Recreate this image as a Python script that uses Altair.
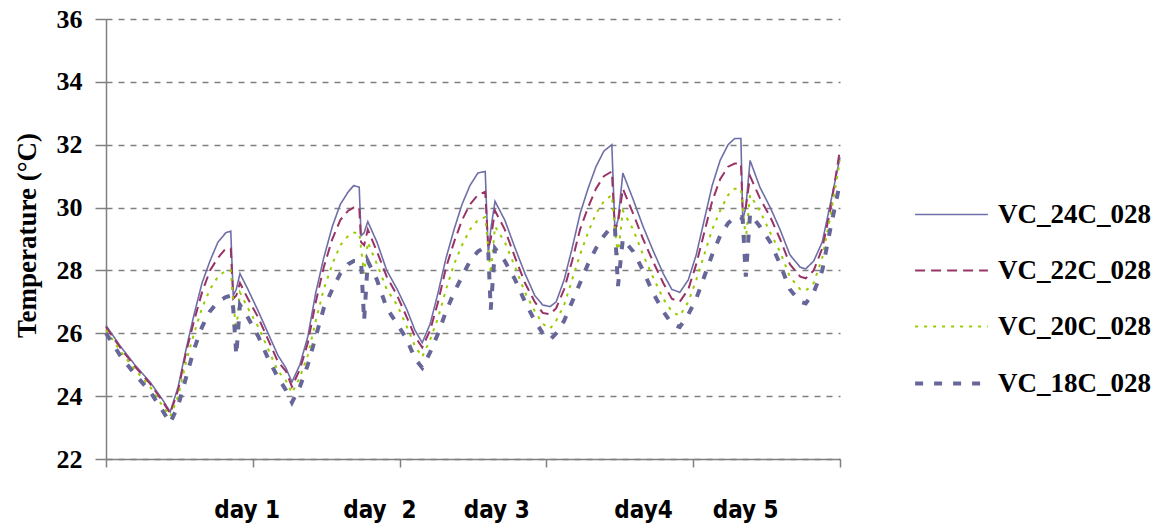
import altair as alt
import pandas as pd

# ---- data ----
x_hours = [0, 2.3, 4.7, 7.2, 9.2, 10.5, 11.8, 13.1, 14.4, 15.7, 17.0, 18.3, 19.6, 20.4, 20.8, 21.3, 21.9,
           23.2, 24.9, 26.5, 28.1, 29.4, 30.4, 31.7, 33.0, 34.3, 35.6, 37.0, 38.3, 39.6, 40.5, 41.4,
           41.7, 42.2, 42.8, 44.3, 45.9, 47.6, 49.2, 50.5, 51.7, 53.0, 54.3, 55.6, 56.9, 58.2, 59.5,
           60.8, 62.0, 62.5, 62.9, 63.6, 65.2, 66.9, 68.5, 70.1, 71.4, 72.6, 73.6, 74.9, 76.2, 77.5,
           78.8, 80.1, 81.4, 82.7, 83.2, 83.7, 84.5, 86.2, 87.8, 89.4, 91.1, 92.5, 93.8, 95.2, 96.5,
           97.8, 99.1, 100.4, 101.7, 102.8, 103.8, 104.1, 104.6, 105.3, 106.9, 108.6, 110.2, 111.8,
           113.5, 114.4, 115.7, 117.1, 118.4, 120.0]

t24 = [26.25, 25.6, 25.0, 24.45, 23.9, 23.5, 24.3, 25.5, 26.6, 27.6, 28.3, 28.9, 29.2, 29.25, 27.2, 27.4, 27.9,
       27.4, 26.7, 26.0, 25.3, 24.9, 24.45, 25.0, 25.9, 27.3, 28.4, 29.4, 30.1, 30.5, 30.7, 30.65,
       29.1, 29.2, 29.55, 28.9, 28.0, 27.4, 26.75, 26.1, 25.7, 26.3, 27.3, 28.4, 29.3, 30.1, 30.7,
       31.1, 31.15, 28.5, 29.3, 30.2, 29.6, 28.7, 27.9, 27.2, 26.9, 26.85, 27.0, 27.7, 28.7, 29.8,
       30.6, 31.3, 31.8, 32.0, 29.3, 29.6, 31.1, 30.25, 29.4, 28.65, 27.9, 27.4, 27.3, 27.7, 28.5,
       29.6, 30.7, 31.5, 32.0, 32.2, 32.2, 29.6, 30.0, 31.5, 30.65, 30.0, 29.3, 28.5,
       28.1, 28.05, 28.3, 28.9, 30.1, 31.6]

t22 = [26.2, 25.55, 24.95, 24.4, 23.85, 23.45, 24.2, 25.4, 26.4, 27.3, 28.0, 28.4, 28.7, 28.7, 27.1, 27.2, 27.6,
       27.1, 26.5, 25.8, 25.1, 24.8, 24.3, 24.85, 25.7, 27.0, 28.1, 29.0, 29.6, 29.9, 30.0, 30.0,
       28.9, 28.8, 29.3, 28.6, 27.8, 27.2, 26.5, 25.9, 25.55, 26.1, 27.0, 28.1, 28.9, 29.6, 30.1,
       30.4, 30.5, 28.7, 29.0, 29.9, 29.3, 28.4, 27.6, 27.0, 26.65, 26.6, 26.8, 27.4, 28.3, 29.3,
       30.0, 30.6, 31.0, 31.15, 29.3, 29.5, 30.6, 29.8, 29.0, 28.3, 27.6, 27.1, 27.0, 27.4, 28.2,
       29.2, 30.2, 30.9, 31.3, 31.4, 31.4, 29.9, 30.0, 31.0, 30.3, 29.7, 29.0, 28.2,
       27.8, 27.75, 28.0, 28.7, 29.9, 31.85]

t20 = [26.1, 25.45, 24.85, 24.3, 23.7, 23.35, 24.0, 25.1, 26.0, 26.8, 27.4, 27.8, 28.0, 28.0, 27.0, 26.1, 27.3,
       26.8, 26.2, 25.5, 24.8, 24.5, 24.1, 24.6, 25.3, 26.4, 27.4, 28.2, 28.8, 29.1, 29.2, 29.2,
       28.7, 27.9, 28.9, 28.2, 27.4, 26.9, 26.2, 25.6, 25.25, 25.8, 26.5, 27.4, 28.2, 28.8, 29.3,
       29.6, 29.7, 28.7, 27.9, 29.4, 28.9, 28.1, 27.3, 26.7, 26.3, 26.15, 26.4, 26.9, 27.7, 28.5,
       29.2, 29.8, 30.2, 30.4, 29.3, 28.5, 29.9, 29.3, 28.5, 27.8, 27.1, 26.7, 26.55, 27.0, 27.7,
       28.5, 29.3, 29.9, 30.4, 30.6, 30.6, 30.0, 29.0, 30.4, 29.9, 29.2, 28.6, 27.8,
       27.4, 27.35, 27.6, 28.4, 29.7, 31.5]

t18 = [26.0, 25.3, 24.7, 24.15, 23.55, 23.15, 23.7, 24.6, 25.5, 26.2, 26.7, 27.0, 27.15, 27.2, 26.8, 25.3, 26.9,
       26.5, 25.9, 25.2, 24.6, 24.2, 23.8, 24.3, 25.0, 25.9, 26.8, 27.4, 27.9, 28.2, 28.3, 28.3,
       28.3, 26.4, 28.3, 27.7, 26.8, 26.3, 25.8, 25.2, 24.9, 25.4, 26.0, 26.7, 27.3, 27.8, 28.3,
       28.6, 28.75, 28.6, 26.75, 28.7, 28.3, 27.7, 27.0, 26.4, 26.0, 25.8, 26.0, 26.4, 27.0, 27.6,
       28.2, 28.7, 29.1, 29.4, 29.4, 27.5, 29.0, 28.6, 28.0, 27.3, 26.7, 26.3, 26.2, 26.6, 27.1,
       27.8, 28.5, 29.1, 29.5, 29.7, 29.7, 29.6, 27.8, 29.8, 29.4, 28.9, 28.2, 27.4,
       27.0, 26.95, 27.3, 28.0, 29.3, 30.8]

series_names = ["VC_24C_028", "VC_22C_028", "VC_20C_028", "VC_18C_028"]
series_values = [t24, t22, t20, t18]
series_colors = ["#6E6EA8", "#993366", "#99CC00", "#666699"]
series_dash = [[1, 0], [10, 6], [3, 6], [8, 11]]
series_width = [1.6, 2, 2, 4]

y_ticks = [22, 24, 26, 28, 30, 32, 34, 36]
x_ticks = [0, 24, 48, 72, 96, 120]
day_labels = ["day 1", "day\u00a0 2", "day 3", "day4", "day 5"]
day_pos = [23.0, 44.7, 63.8, 87.8, 104.5]

rows = []
for name, vals in zip(series_names, series_values):
    for i, (h, v) in enumerate(zip(x_hours, vals)):
        rows.append({"series": name, "hour": h, "temp": v, "idx": i})
df = pd.DataFrame(rows)

label_expr = ""
for p, lab in zip(day_pos, day_labels):
    label_expr += f"datum.value == {p} ? '{lab}' : "
label_expr += "''"
tick_test = "indexof([" + ",".join(str(t) for t in x_ticks) + "], datum.value) >= 0"

x_axis = alt.Axis(
    values=sorted(x_ticks + day_pos),
    labelExpr=label_expr,
    labelOverlap=False,
    labelFlush=False,
    labelBound=False,
    grid=False,
    domainColor="#808080",
    domainWidth=1.5,
    tickColor="#808080",
    tickWidth=1.5,
    tickSize=8,
    tickOpacity={"condition": {"test": tick_test, "value": 1}, "value": 0},
    labelFont="Liberation Sans Narrow, Arial Narrow, DejaVu Sans Condensed, Liberation Sans",
    labelFontWeight="bold",
    labelFontSize=24,
    labelColor="black",
    labelPadding=31,
    labelBaseline="top",
    title=None,
)

y_axis = alt.Axis(
    values=y_ticks,
    grid=True,
    gridColor="#808080",
    gridDash=[6, 6],
    gridWidth=1.5,
    domainColor="#808080",
    domainWidth=1.5,
    tickColor="#808080",
    tickWidth=1.5,
    tickSize=11,
    labelFont="Liberation Serif",
    labelFontWeight="bold",
    labelFontSize=26,
    labelColor="black",
    labelPadding=13,
    title="Temperature (°C)",
    titleFont="Liberation Serif",
    titleFontWeight="bold",
    titleFontSize=27,
    titleColor="black",
    titleAngle=270,
    titleX=-79,
    titleY=216,
    titleAlign="center",
    titleBaseline="middle",
)

legend = alt.Legend(
    title=None,
    orient="none",
    legendX=807,
    legendY=158,
    symbolType="stroke",
    symbolSize=5300,
    labelFont="Liberation Serif",
    labelFontWeight="bold",
    labelFontSize=27,
    labelColor="black",
    labelLimit=0,
    labelOffset=8,
    rowPadding=5,
)

chart = alt.Chart(df).mark_line(clip=False).encode(
    x=alt.X("hour:Q", scale=alt.Scale(domain=[0, 120], nice=False), axis=x_axis),
    y=alt.Y("temp:Q", scale=alt.Scale(domain=[22, 36], nice=False), axis=y_axis),
    color=alt.Color("series:N", scale=alt.Scale(domain=series_names, range=series_colors), legend=legend),
    strokeDash=alt.StrokeDash("series:N", scale=alt.Scale(domain=series_names, range=series_dash), legend=legend),
    strokeWidth=alt.StrokeWidth("series:N", scale=alt.Scale(type="ordinal", domain=series_names, range=series_width), legend=legend),
    order="idx:Q",
).properties(
    width=734,
    height=440,
    autosize=alt.AutoSizeParams(type="none"),
    padding={"left": 106, "top": 19, "right": 312, "bottom": 67},
    background="white",
).configure_view(stroke=None)

chart.save("out.html", embed_options={"renderer": "svg", "actions": False})
